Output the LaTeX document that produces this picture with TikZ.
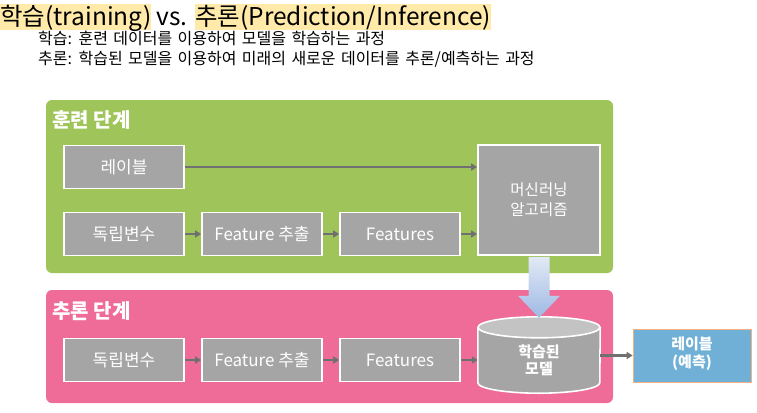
\documentclass[tikz,border=0pt]{standalone}
\usepackage{fontspec}
\setmainfont{Noto Sans CJK KR}
\newfontfamily\subfont{Noto Sans CJK KR}[WordSpace=1.5]
\usetikzlibrary{positioning,shapes.geometric,arrows.meta,calc}
\definecolor{hlyellow}{RGB}{255,234,170}
\definecolor{traingreen}{RGB}{158,196,90}
\definecolor{inferpink}{RGB}{240,108,152}
\definecolor{boxgray}{RGB}{165,165,165}
\definecolor{lightgray}{RGB}{195,195,195}
\definecolor{arrowgray}{RGB}{112,112,112}
\definecolor{predblue}{RGB}{112,176,214}
\definecolor{predborder}{RGB}{244,177,131}
\definecolor{shaftlight}{RGB}{226,233,245}
\definecolor{shaftdark}{RGB}{158,185,228}

\begin{document}
\begin{tikzpicture}[x=1pt,y=-1pt,
  panel/.style={rounded corners=6pt},
  titlepart/.style={inner xsep=0pt,inner ysep=0pt,text height=22pt,text depth=4pt,
    anchor=base west,font=\fontsize{24.5}{26}\selectfont},
  subline/.style={anchor=base west,inner sep=0pt,font=\subfont\fontsize{16}{18}\selectfont},
  stagelabel/.style={anchor=west,text=white,font=\fontsize{20}{22}\selectfont\bfseries},
  box/.style={fill=boxgray,draw=white,line width=1.6pt,minimum width=120pt,
    minimum height=43pt,text=white,font=\fontsize{17}{20}\selectfont,align=center},
  flow/.style={draw=arrowgray,line width=2.4pt,-{Triangle[length=6pt,width=7pt]}}]
  \useasboundingbox (0,0) rectangle (757,412);

  % title
  \node[titlepart,fill=hlyellow] (ttrain) at (0,26) {학습(training)};
  \node[titlepart] (tvs) at ($(ttrain.base east)+(5,0)$) {vs.};
  \node[titlepart,fill=hlyellow] (tinfer) at ($(tvs.base east)+(7,0)$) {추론(Prediction/Inference)};
  \node[subline] (sub1) at (38,45) {학습: 훈련 데이터를 이용하여 모델을 학습하는 과정};
  \node[subline] (sub2) at (38,65) {추론: 학습된 모델을 이용하여 미래의 새로운 데이터를 추론/예측하는 과정};

  % panels
  \fill[traingreen,panel] (46,100) rectangle (613,273);
  \fill[inferpink,panel] (46,290) rectangle (613,403);
  \node[stagelabel] (trainlbl) at (49,120) {훈련 단계};
  \node[stagelabel] (inferlbl) at (49,311) {추론 단계};

  % training stage
  \node[box] (label) at (124,167) {레이블};
  \node[box] (xtrain) at (124,234) {독립변수};
  \node[box] (fetrain) at (262,234) {Feature 추출};
  \node[box] (ftrain) at (400,234) {Features};
  \node[box,minimum width=122pt,minimum height=110pt] (algo) at (539,200)
    {\fontsize{15.5}{19}\selectfont 머신러닝\\\fontsize{15.5}{19}\selectfont 알고리즘};

  \draw[flow] (label.east) -- (label.east -| algo.west);
  \draw[flow] (xtrain) -- (fetrain);
  \draw[flow] (fetrain) -- (ftrain);
  \draw[flow] (ftrain.east) -- (ftrain.east -| algo.west);

  % inference stage
  \node[box] (xinfer) at (124,360) {독립변수};
  \node[box] (feinfer) at (262,360) {Feature 추출};
  \node[box] (finfer) at (400,360) {Features};
  \node[minimum width=122pt,minimum height=76pt,inner sep=0pt] (model) at (539,355) {};
  \filldraw[fill=boxgray,draw=white,line width=1.6pt]
    ($(model.north west)+(0,10.5)$) -- ($(model.south west)+(0,-10.5)$)
    arc[start angle=180,end angle=360,x radius=61pt,y radius=10.5pt]
    -- ($(model.north east)+(0,10.5)$);
  \filldraw[fill=lightgray,draw=white,line width=1.6pt]
    ($(model.north)+(0,10.5)$) ellipse[x radius=61pt,y radius=10.5pt];
  \node[text=white,font=\fontsize{15}{17}\selectfont\bfseries,align=center]
    (modeltxt) at (539,360) {학습된\\모델};
  \node[fill=predblue,draw=predborder,line width=0.6pt,minimum width=118pt,
    minimum height=53pt,text=white,font=\fontsize{15}{18}\selectfont\bfseries,
    align=center,text depth=6pt] (pred) at (692,355.5) {레이블\\(예측)};

  \draw[flow] (xinfer) -- (feinfer);
  \draw[flow] (feinfer) -- (finfer);
  \draw[flow] (finfer.east) -- (finfer.east -| model.west);
  \draw[flow] (model.east |- pred.west) -- (pred.west);

  % model transfer
  \shade[top color=shaftlight,bottom color=shaftdark]
    ($(algo.south)+(-10.5,1)$) -- ($(algo.south)+(10.5,1)$) -- ($(algo.south)+(10.5,40)$)
    -- ($(algo.south)+(21,40)$) -- ($(model.north)+(0,1)$) -- ($(algo.south)+(-21,40)$)
    -- ($(algo.south)+(-10.5,40)$) -- cycle;
\end{tikzpicture}
\end{document}
